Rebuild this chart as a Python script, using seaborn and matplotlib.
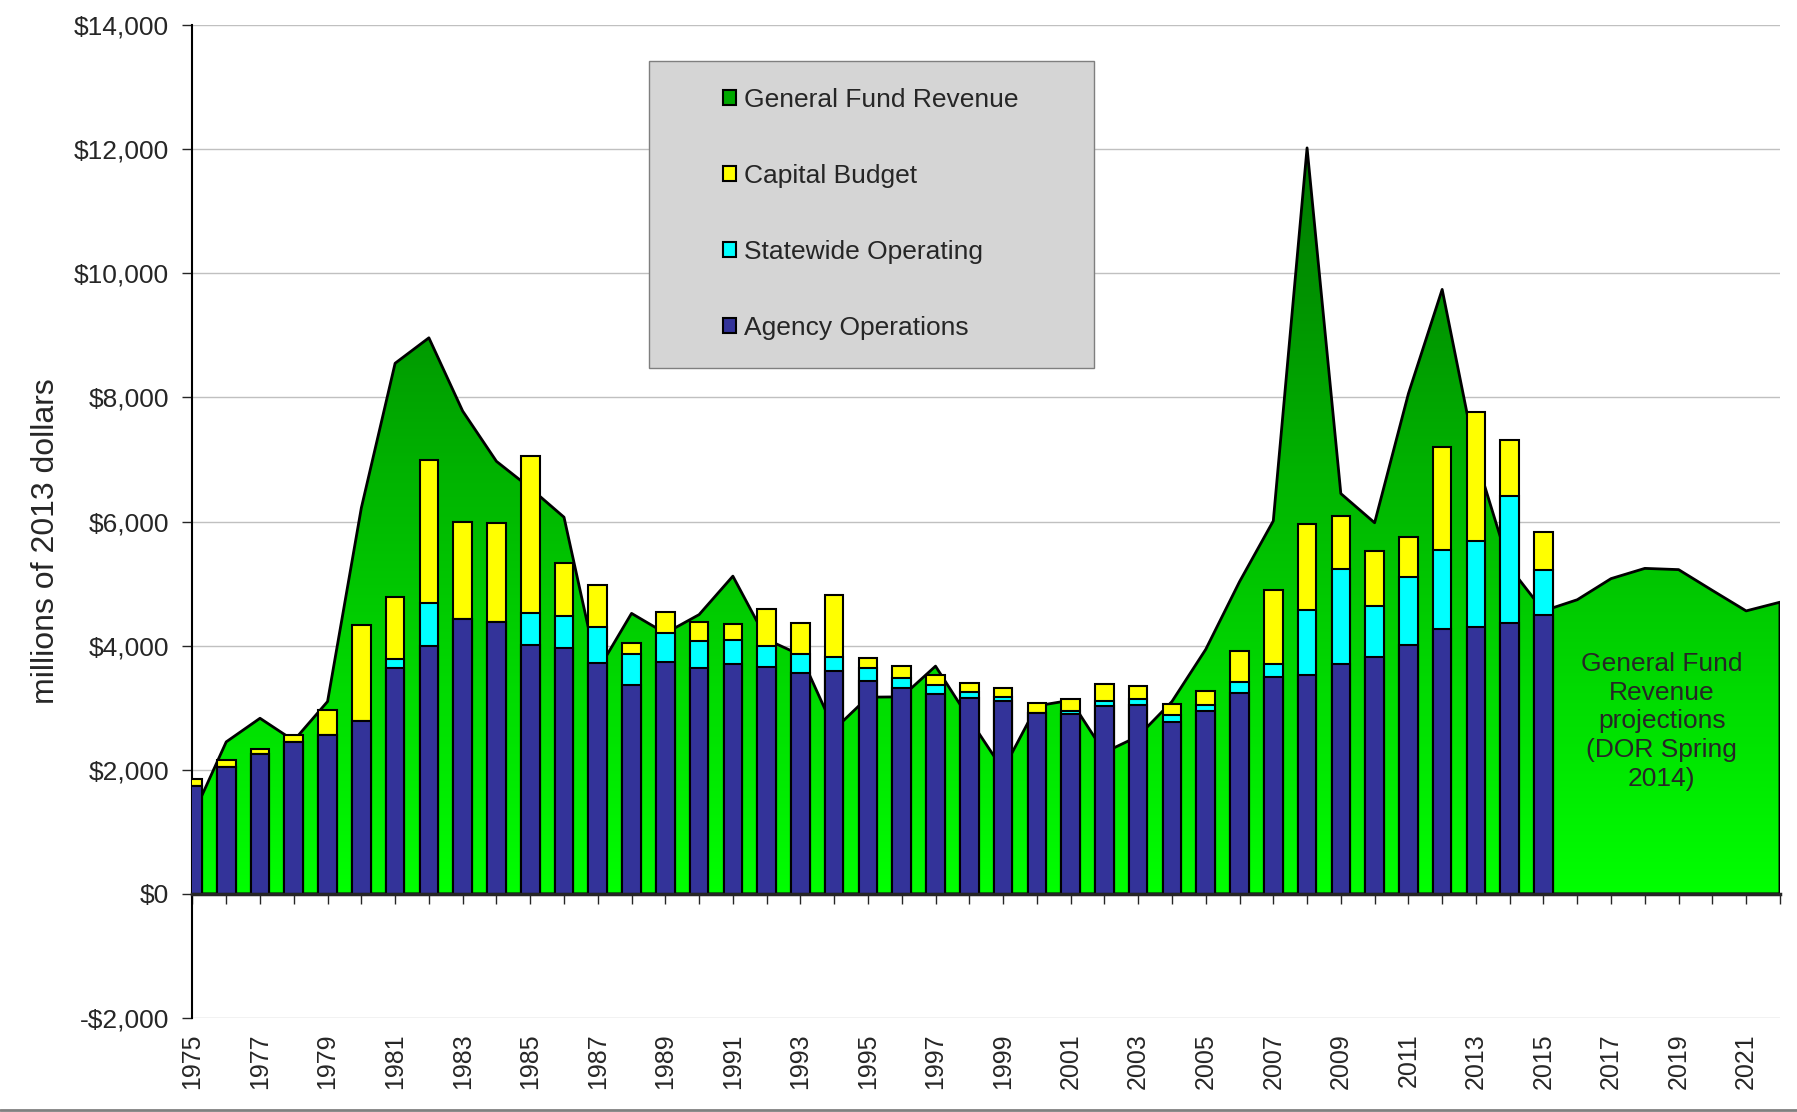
import numpy as np
import pandas as pd
import matplotlib
matplotlib.use("Agg")
import matplotlib.pyplot as plt
import seaborn as sns
from matplotlib.colors import LinearSegmentedColormap
from matplotlib.patches import Patch, Rectangle
from matplotlib.lines import Line2D

# ---------------- data ----------------
years_all = list(range(1975, 2023))
gf_revenue = [1250, 2450, 2830, 2470, 3100, 6220, 8550, 8960, 7780, 6970,
              6540, 6070, 3600, 4520, 4200, 4500, 5120, 4100, 3850, 2650,
              3170, 3175, 3670, 2820, 2000, 3030, 3120, 2280, 2540, 3100,
              3940, 5030, 6010, 12020, 6450, 5980, 8060, 9740, 7030, 5260,
              4560, 4740, 5080, 5245, 5225, 4890, 4560, 4700]

years_bar = list(range(1975, 2016))
agency_ops = [1742, 2038, 2252, 2453, 2554, 2780, 3636, 3994, 4428, 4378,
              4013, 3963, 3717, 3367, 3733, 3642, 3700, 3650, 3567, 3592,
              3425, 3317, 3217, 3150, 3108, 2917, 2900, 3025, 3050, 2775,
              2953, 3233, 3492, 3523, 3710, 3814, 4010, 4270, 4300, 4373,
              4498]
statewide_op = [0, 0, 0, 0, 0, 0, 144, 686, 0, 0,
                516, 522, 583, 491, 475, 425, 392, 350, 300, 225,
                217, 166, 141, 108, 59, 0, 40, 83, 83, 100,
                83, 187, 218, 1057, 1523, 818, 1099, 1274, 1379, 2042,
                725]
capital_budget = [107, 113, 75, 101, 402, 1548, 1000, 2310, 1562, 1602,
                  2531, 849, 675, 192, 334, 316, 250, 583, 491, 1000,
                  166, 184, 167, 142, 150, 166, 202, 267, 217, 185,
                  228, 497, 1181, 1379, 850, 891, 642, 1658, 2083, 891,
                  601]

series_labels = ["General Fund Revenue", "Capital Budget",
                 "Statewide Operating", "Agency Operations"]
y_ticks = list(range(-2000, 14001, 2000))
x_label_years = list(range(1975, 2022, 2))
projection_note = "General Fund\nRevenue\nprojections\n(DOR Spring\n2014)"
y_title = "millions of 2013 dollars"

# ---------------- style ----------------
sns.set_style("white")
plt.rcParams['font.family'] = ['Liberation Sans', 'DejaVu Sans']

C_AGENCY = '#333399'
C_STATE = '#00ffff'
C_CAPITAL = '#ffff00'
C_GF = '#00a800'

fig = plt.figure(figsize=(17.97, 11.12), dpi=100)
ax = fig.add_axes([0.1071, 0.0845, 0.8834, 0.893])

# ---------------- general fund area (gradient) ----------------
df_gf = pd.DataFrame({"year": years_all, "value": gf_revenue})
poly = ax.fill_between(df_gf["year"], 0, df_gf["value"], facecolor='none',
                       edgecolor='black', linewidth=2, zorder=2)
cmap = LinearSegmentedColormap.from_list('gf', ['#00ff00', '#006200'])
grad = np.linspace(0, 1, 256).reshape(-1, 1)
img = ax.imshow(grad, extent=(1975, 2022, 0, 14000), origin='lower',
                aspect='auto', cmap=cmap, zorder=1, interpolation='bilinear')
img.set_clip_path(poly.get_paths()[0], ax.transData)

# ---------------- stacked bars ----------------
df_bar = pd.DataFrame({"year": years_bar, "agency": agency_ops,
                       "statewide": statewide_op, "capital": capital_budget})
df_bar["lvl2"] = df_bar["agency"] + df_bar["statewide"]
df_bar["lvl3"] = df_bar["lvl2"] + df_bar["capital"]
for col, color in [("lvl3", C_CAPITAL), ("lvl2", C_STATE), ("agency", C_AGENCY)]:
    sns.barplot(data=df_bar, x="year", y=col, native_scale=True, color=color,
                saturation=1, width=0.55, edgecolor='black', linewidth=1.5,
                errorbar=None, ax=ax, zorder=3)

# ---------------- axes ----------------
ax.set_xlim(1975, 2022)
ax.set_ylim(-2000, 14000)
ax.set_xlabel("")
ax.set_ylabel("")
ax.set_yticks(y_ticks)
ax.set_yticklabels([("-$" if v < 0 else "$") + f"{abs(v):,}" for v in y_ticks])
ax.tick_params(axis='y', length=7, width=1, pad=10, labelsize=19, direction='out', left=True)
ax.grid(axis='y', color='#c0c0c0', linewidth=1)
ax.grid(axis='x', visible=False)
ax.set_axisbelow(True)

ax.set_xticks(years_all)
ax.tick_params(axis='x', length=7, width=1, direction='out', labelbottom=False, bottom=True)
ax.spines['bottom'].set_position(('data', 0))
ax.spines['bottom'].set_linewidth(2.5)
ax.spines['bottom'].set_zorder(4)
ax.spines['left'].set_linewidth(1.5)
ax.spines['left'].set_color('black')
ax.spines['top'].set_visible(False)
ax.spines['right'].set_visible(False)

sec = ax.secondary_xaxis('bottom')
sec.set_xticks(x_label_years)
sec.set_xticklabels([str(y) for y in x_label_years], rotation=90, fontsize=18)
sec.tick_params(axis='x', length=0, pad=11)
sec.spines['bottom'].set_visible(False)

fig.text(0.0256, 0.5135, y_title, rotation=90, ha='center', va='center', fontsize=23)

ax.text(2018.5, 2780, projection_note, ha='center', va='center',
        fontsize=19, linespacing=1.25, zorder=4)

# ---------------- legend ----------------
ax.add_patch(Rectangle((0.2876, 0.6546), 0.2804, 0.309, transform=ax.transAxes,
                       facecolor='#d5d5d5', edgecolor='#7f7f7f', linewidth=1, zorder=5))
handles = [Patch(facecolor=c, edgecolor='black', linewidth=1.5)
           for c in [C_GF, C_CAPITAL, C_STATE, C_AGENCY]]
leg = ax.legend(handles, series_labels, loc='upper left', bbox_to_anchor=(0.334, 0.9366),
                frameon=False, fontsize=19, borderpad=0, borderaxespad=0,
                handlelength=0.52, handleheight=0.52, handletextpad=0.28,
                labelspacing=1.97)
leg.set_zorder(6)

fig.add_artist(Line2D([0, 1], [0.0015, 0.0015], transform=fig.transFigure,
                      color='#808080', linewidth=2))

fig.savefig("out.png", dpi=100)
